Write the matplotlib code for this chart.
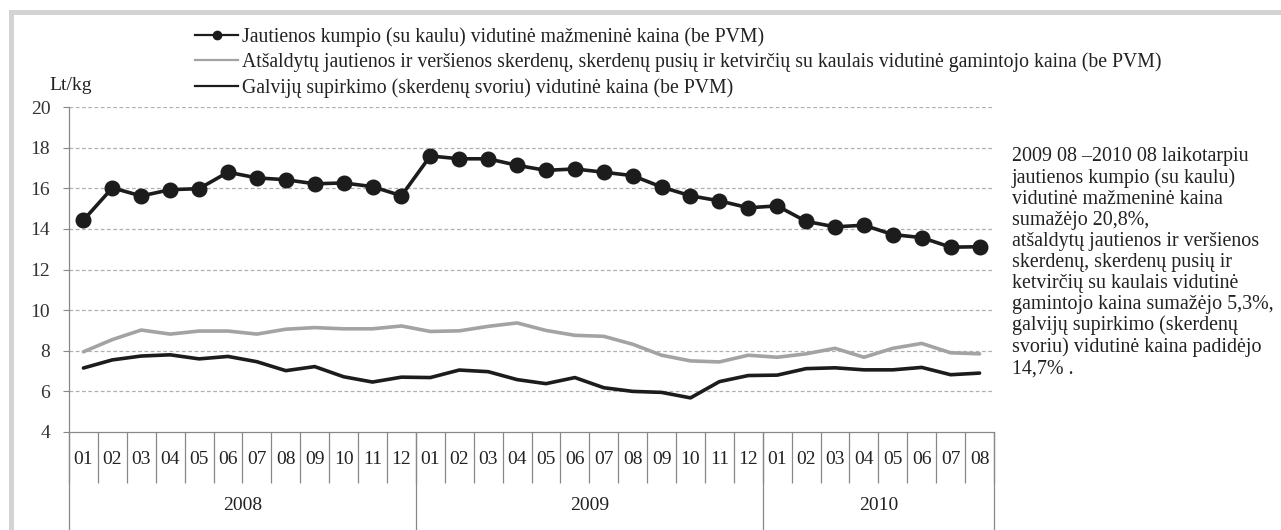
import matplotlib
matplotlib.use("Agg")
import matplotlib.pyplot as plt
from matplotlib.lines import Line2D
from matplotlib.patches import Rectangle
import numpy as np

plt.rcParams['font.family'] = ['Liberation Serif', 'DejaVu Serif']

months = ["01","02","03","04","05","06","07","08","09","10","11","12",
          "01","02","03","04","05","06","07","08","09","10","11","12",
          "01","02","03","04","05","06","07","08"]
years = ["2008", "2009", "2010"]
year_counts = [12, 12, 8]

retail = [14.43, 16.02, 15.62, 15.93, 15.98, 16.79, 16.51, 16.42, 16.22, 16.26, 16.08, 15.63,
          17.59, 17.45, 17.45, 17.13, 16.88, 16.95, 16.79, 16.62, 16.06, 15.63, 15.38, 15.04,
          15.13, 14.37, 14.10, 14.18, 13.72, 13.57, 13.10, 13.12]
producer = [7.95, 8.55, 9.02, 8.82, 8.97, 8.97, 8.82, 9.06, 9.14, 9.08, 9.08, 9.22,
            8.95, 8.98, 9.20, 9.37, 9.00, 8.76, 8.71, 8.32, 7.78, 7.50, 7.45, 7.78,
            7.68, 7.85, 8.12, 7.68, 8.12, 8.36, 7.90, 7.85]
purchase = [7.15, 7.55, 7.74, 7.80, 7.60, 7.72, 7.46, 7.02, 7.22, 6.72, 6.46, 6.70,
            6.68, 7.05, 6.97, 6.58, 6.38, 6.68, 6.18, 6.00, 5.95, 5.68, 6.48, 6.78,
            6.80, 7.12, 7.16, 7.06, 7.06, 7.18, 6.82, 6.90]

labels = ["Jautienos kumpio (su kaulu) vidutinė mažmeninė kaina (be PVM)",
          "Atšaldytų jautienos ir veršienos skerdenų, skerdenų pusių ir ketvirčių su kaulais vidutinė gamintojo kaina (be PVM)",
          "Galvijų supirkimo (skerdenų svoriu) vidutinė kaina (be PVM)"]
y_ticks = [4, 6, 8, 10, 12, 14, 16, 18, 20]
y_unit = "Lt/kg"
note = ("2009 08 –2010 08 laikotarpiu\njautienos kumpio (su kaulu)\nvidutinė mažmeninė kaina\n"
        "sumažėjo 20,8%,\natšaldytų jautienos ir veršienos\nskerdenų, skerdenų pusių ir\n"
        "ketvirčių su kaulais vidutinė\ngamintojo kaina sumažėjo 5,3%,\ngalvijų supirkimo (skerdenų\n"
        "svoriu) vidutinė kaina padidėjo\n14,7% .")

W, H = 1281, 530
fig = plt.figure(figsize=(W/100, H/100), dpi=100)
AXH = 432 - 107
ax = fig.add_axes([69/W, 1-432/H, (994-69)/W, AXH/H])

x = np.arange(len(months))
ax.plot(x, producer, color="#a3a3a3", lw=2.6, solid_joinstyle="round", solid_capstyle="round", zorder=3)
ax.plot(x, purchase, color="#1c1c1c", lw=2.6, solid_joinstyle="round", solid_capstyle="round", zorder=3)
ax.plot(x, retail, color="#1c1c1c", lw=2.6, marker="o", ms=10.5, solid_joinstyle="round", zorder=4)

ax.set_xlim(-0.5, len(months)-0.5)
ax.set_ylim(4, 20)
ax.set_yticks(y_ticks)
ax.set_yticklabels([str(v) for v in y_ticks], fontsize=14, color="#333333")
ax.tick_params(axis="y", length=4.5, color="#888888", pad=9)
for v in y_ticks[1:]:
    ax.axhline(v, color="#b0b0b0", lw=0.9, ls=(0, (3, 2)), zorder=1)

for s in ["top", "right"]:
    ax.spines[s].set_visible(False)
ax.spines["left"].set_color("#888888")
ax.spines["bottom"].set_color("#888888")
ax.spines["left"].set_linewidth(0.9)
ax.spines["bottom"].set_linewidth(0.9)

# month separators
bounds = np.arange(len(months)+1) - 0.5
ax.set_xticks(bounds)
ax.set_xticklabels([])
ax.tick_params(axis="x", length=51*0.72, color="#888888", width=0.9)

trans = ax.get_xaxis_transform()
for i, m in enumerate(months):
    ax.text(i, -27/AXH, m, transform=trans, ha="center", va="center", fontsize=14, color="#222222")
start = 0
for yr, cnt in zip(years, year_counts):
    ax.text(start + cnt/2 - 0.5, -74/AXH, yr, transform=trans, ha="center", va="center", fontsize=14, color="#222222")
    start += cnt
# year separators
yb = np.cumsum([0] + year_counts) - 0.5
ax.vlines(yb, -100/AXH, 0, transform=trans, color="#888888", lw=0.9, clip_on=False)

fig.text(49/W, 1-86/H, y_unit, ha="left", va="center", fontsize=14, color="#222222")

handles = [Line2D([], [], color="#1c1c1c", lw=1.6, marker="o", ms=6),
           Line2D([], [], color="#a3a3a3", lw=1.6),
           Line2D([], [], color="#1c1c1c", lw=1.6)]
leg = fig.legend(handles, labels, loc="upper left", bbox_to_anchor=(195/W, 1-27/H),
                 frameon=False, fontsize=14.2, handlelength=2.2, handletextpad=0.2,
                 labelspacing=0.3, borderaxespad=0, borderpad=0)
for t in leg.get_texts():
    t.set_color("#222222")

fig.text(1012/W, 1-147/H, note, ha="left", va="top", fontsize=14.4, linespacing=1.14, color="#222222")

# gray frame
fig.add_artist(Rectangle((9/W, 1-15/H), 1-9/W, 5/H, transform=fig.transFigure, color="#d3d3d3", lw=0))
fig.add_artist(Rectangle((9/W, 0), 5/W, 1-10/H, transform=fig.transFigure, color="#d3d3d3", lw=0))

fig.savefig("out.png", dpi=100)
